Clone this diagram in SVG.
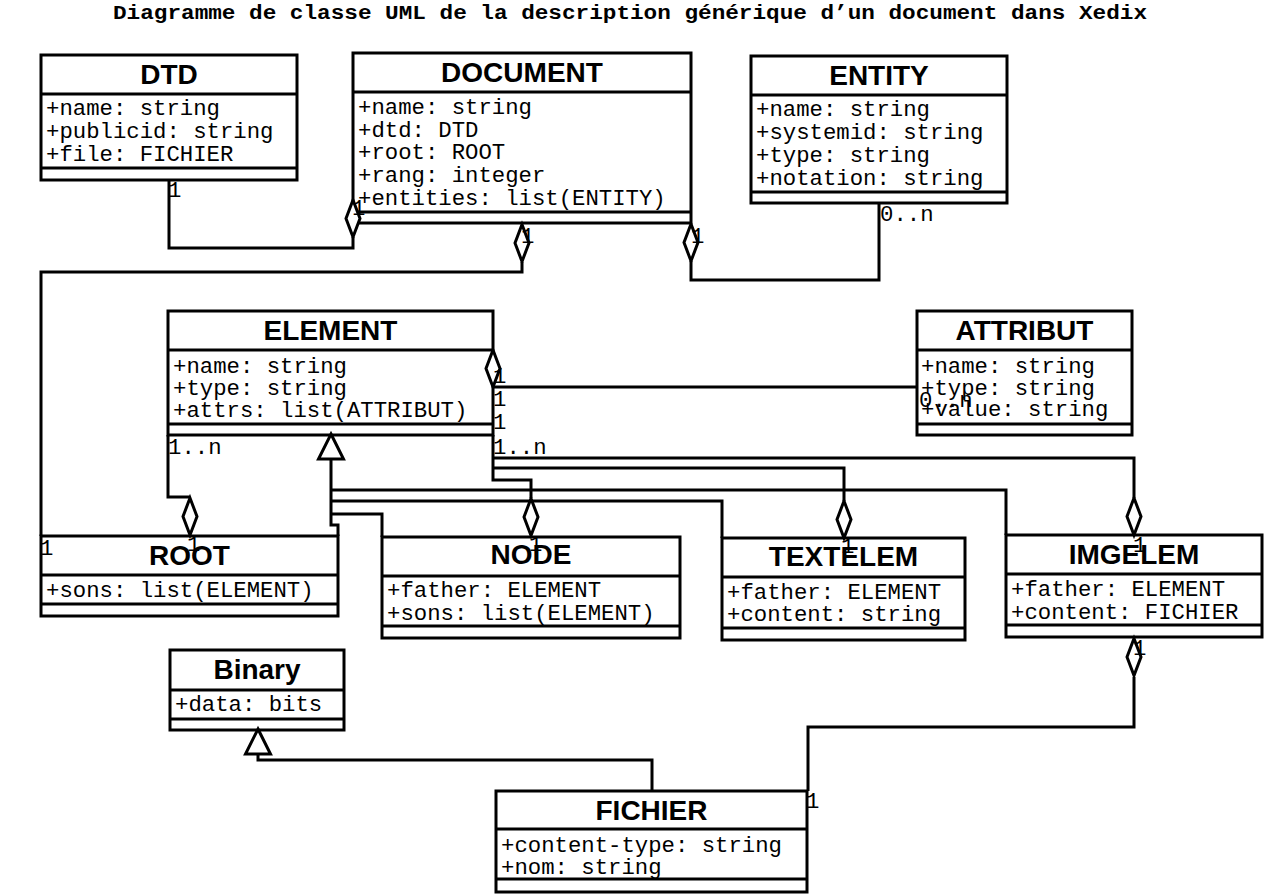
<svg xmlns="http://www.w3.org/2000/svg" xmlns:xlink="http://www.w3.org/1999/xlink" width="1265" height="894" viewBox="0 0 1265 894">
<style>
.box rect{fill:#fff;stroke:#000;stroke-width:3}
.box line{stroke:#000;stroke-width:3}
.hdr{font-family:"Liberation Sans",Arial,sans-serif;font-weight:bold;font-size:28px;text-anchor:middle;fill:#000}
.att{font-family:"Liberation Mono","Courier New",monospace;font-size:22.3px;fill:#000}
.lbl{font-family:"Liberation Mono","Courier New",monospace;font-size:22.3px;fill:#000}
.title{font-family:"Liberation Mono","Courier New",monospace;font-weight:bold;font-size:20px;fill:#000}
.conn path{fill:none;stroke:#000;stroke-width:3}
.dia,.tri{fill:#fff;stroke:#000;stroke-width:3}
</style>
<defs>
<polygon id="dia" class="dia" points="0,-18.5 7,0 0,18.5 -7,0"/>
<polygon id="tri" class="tri" points="0,0 12.5,25 -12.5,25"/>
</defs>
<rect width="1265" height="894" fill="#fff"/>
<text class="title" x="113" y="19" textLength="1034" lengthAdjust="spacingAndGlyphs">Diagramme de classe UML de la description générique d’un document dans Xedix</text>

<g id="DTD" class="box">
<rect x="41" y="55" width="256" height="125"/>
<line x1="41" y1="94" x2="297" y2="94"/><line x1="41" y1="168" x2="297" y2="168"/>
<text class="hdr" x="169" y="84">DTD</text>
<text class="att" x="46" y="115">+name: string</text>
<text class="att" x="46" y="138">+publicid: string</text>
<text class="att" x="46" y="161">+file: FICHIER</text>
</g>
<g id="DOCUMENT" class="box">
<rect x="353" y="53" width="338" height="170"/>
<line x1="353" y1="92" x2="691" y2="92"/><line x1="353" y1="212" x2="691" y2="212"/>
<text class="hdr" x="522" y="82">DOCUMENT</text>
<text class="att" x="358" y="114">+name: string</text>
<text class="att" x="358" y="137">+dtd: DTD</text>
<text class="att" x="358" y="159">+root: ROOT</text>
<text class="att" x="358" y="182">+rang: integer</text>
<text class="att" x="358" y="205">+entities: list(ENTITY)</text>
</g>
<g id="ENTITY" class="box">
<rect x="751" y="56" width="256" height="147"/>
<line x1="751" y1="95" x2="1007" y2="95"/><line x1="751" y1="192" x2="1007" y2="192"/>
<text class="hdr" x="879" y="85">ENTITY</text>
<text class="att" x="756" y="116">+name: string</text>
<text class="att" x="756" y="139">+systemid: string</text>
<text class="att" x="756" y="162">+type: string</text>
<text class="att" x="756" y="185">+notation: string</text>
</g>
<g id="ELEMENT" class="box">
<rect x="168" y="311" width="325" height="124"/>
<line x1="168" y1="350" x2="493" y2="350"/><line x1="168" y1="424" x2="493" y2="424"/>
<text class="hdr" x="330.5" y="340">ELEMENT</text>
<text class="att" x="173" y="373">+name: string</text>
<text class="att" x="173" y="395">+type: string</text>
<text class="att" x="173" y="417">+attrs: list(ATTRIBUT)</text>
</g>
<g id="ATTRIBUT" class="box">
<rect x="917" y="311" width="215" height="124"/>
<line x1="917" y1="350" x2="1132" y2="350"/><line x1="917" y1="424" x2="1132" y2="424"/>
<text class="hdr" x="1024.5" y="340">ATTRIBUT</text>
<text class="att" x="921" y="373">+name: string</text>
<text class="att" x="921" y="395">+type: string</text>
<text class="att" x="921" y="416">+value: string</text>
</g>
<g id="ROOT" class="box">
<rect x="41" y="536" width="297" height="80"/>
<line x1="41" y1="575" x2="338" y2="575"/><line x1="41" y1="604" x2="338" y2="604"/>
<text class="hdr" x="189.5" y="565">ROOT</text>
<text class="att" x="46" y="597">+sons: list(ELEMENT)</text>
</g>
<g id="NODE" class="box">
<rect x="382" y="537" width="298" height="101"/>
<line x1="382" y1="576" x2="680" y2="576"/><line x1="382" y1="626" x2="680" y2="626"/>
<text class="hdr" x="531" y="564">NODE</text>
<text class="att" x="387" y="597">+father: ELEMENT</text>
<text class="att" x="387" y="620">+sons: list(ELEMENT)</text>
</g>
<g id="TEXTELEM" class="box">
<rect x="722" y="538" width="243" height="102"/>
<line x1="722" y1="577" x2="965" y2="577"/><line x1="722" y1="628" x2="965" y2="628"/>
<text class="hdr" x="843.5" y="566">TEXTELEM</text>
<text class="att" x="727" y="599">+father: ELEMENT</text>
<text class="att" x="727" y="621">+content: string</text>
</g>
<g id="IMGELEM" class="box">
<rect x="1006" y="535" width="256" height="102"/>
<line x1="1006" y1="574" x2="1262" y2="574"/><line x1="1006" y1="625" x2="1262" y2="625"/>
<text class="hdr" x="1134" y="564">IMGELEM</text>
<text class="att" x="1011" y="596">+father: ELEMENT</text>
<text class="att" x="1011" y="619">+content: FICHIER</text>
</g>
<g id="Binary" class="box">
<rect x="170" y="650" width="174" height="80"/>
<line x1="170" y1="690" x2="344" y2="690"/><line x1="170" y1="719" x2="344" y2="719"/>
<text class="hdr" x="257" y="679">Binary</text>
<text class="att" x="175" y="711">+data: bits</text>
</g>
<g id="FICHIER" class="box">
<rect x="496" y="791" width="311" height="101"/>
<line x1="496" y1="829" x2="807" y2="829"/><line x1="496" y1="879" x2="807" y2="879"/>
<text class="hdr" x="651.5" y="820">FICHIER</text>
<text class="att" x="501" y="852">+content-type: string</text>
<text class="att" x="501" y="874">+nom: string</text>
</g>

<g id="connectors" class="conn">
<path d="M169,180 V248 H353 V237"/>
<path d="M522,262 V272 H41 V536"/>
<path d="M691,261 V280 H879 V203"/>
<path d="M493,387 H917"/>
<path d="M168,435 V497 H190"/>
<path d="M493,435 V480 H531 V498"/>
<path d="M493,468 H844 V501"/>
<path d="M493,458 H1134 V498"/>
<path d="M331,459 V525 H338 V536"/>
<path d="M331,490 H1006 V535"/>
<path d="M331,501 H722 V538"/>
<path d="M331,514 H382 V537"/>
<path d="M1134,677 V727 H808 V791"/>
<path d="M258,753 V760 H652 V791"/>
<use xlink:href="#dia" x="353" y="218.5"/>
<use xlink:href="#dia" x="522" y="243"/>
<use xlink:href="#dia" x="691" y="242.5"/>
<use xlink:href="#dia" x="493" y="368.5"/>
<use xlink:href="#dia" x="190" y="516.5"/>
<use xlink:href="#dia" x="531" y="517"/>
<use xlink:href="#dia" x="844" y="519.5"/>
<use xlink:href="#dia" x="1134" y="516.5"/>
<use xlink:href="#dia" x="1134" y="657"/>
<use xlink:href="#tri" x="331" y="434"/>
<use xlink:href="#tri" x="258" y="729"/>
<text class="lbl" x="168" y="197">1</text>
<text class="lbl" x="352" y="215">1</text>
<text class="lbl" x="521" y="243">1</text>
<text class="lbl" x="40" y="555">1</text>
<text class="lbl" x="691" y="243">1</text>
<text class="lbl" x="880" y="221">0..n</text>
<text class="lbl" x="493" y="383">1</text>
<text class="lbl" x="919" y="407">0..n</text>
<text class="lbl" x="493" y="406">1</text>
<text class="lbl" x="493" y="429">1</text>
<text class="lbl" x="493" y="454">1..n</text>
<text class="lbl" x="168" y="454">1..n</text>
<text class="lbl" x="187" y="551">1</text>
<text class="lbl" x="529" y="551">1</text>
<text class="lbl" x="841" y="553">1</text>
<text class="lbl" x="1133" y="552">1</text>
<text class="lbl" x="1133" y="655">1</text>
<text class="lbl" x="806" y="808">1</text>
</g>
</svg>
